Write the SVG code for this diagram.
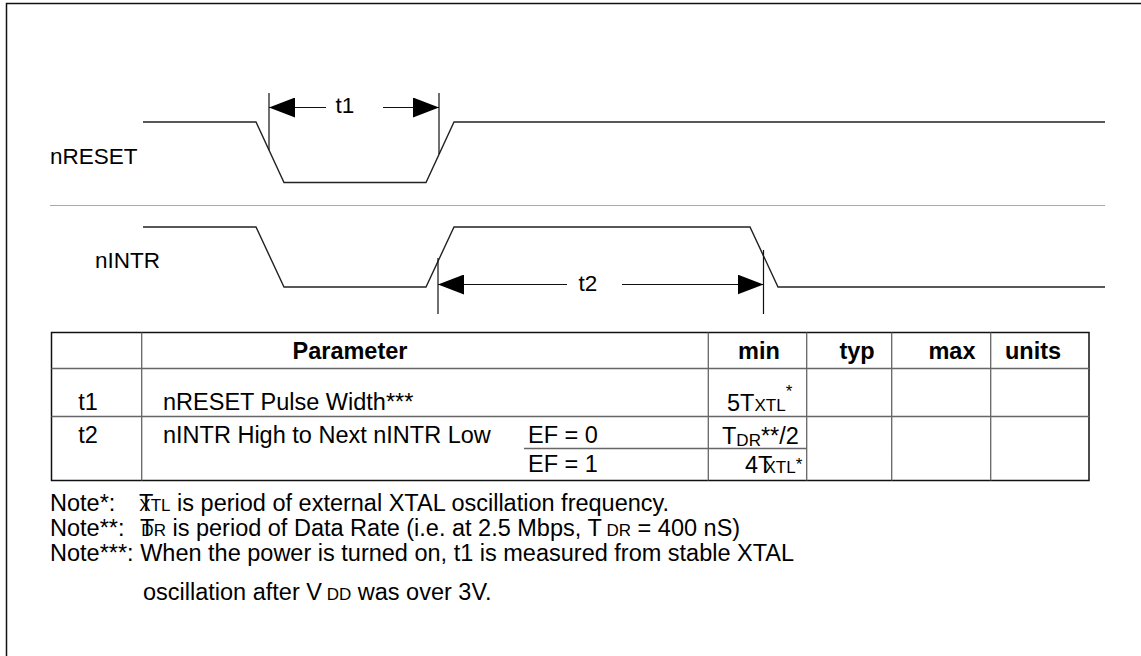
<svg xmlns="http://www.w3.org/2000/svg" width="1141" height="656" viewBox="0 0 1141 656">
<style>
text{font-family:"Liberation Sans",Arial,Helvetica,sans-serif;font-size:23.5px;fill:#000}
.b{font-weight:bold}
.s{font-size:17px}
.lbl{font-size:22.5px}
.mid{text-anchor:middle}
.sig{fill:none;stroke:#222;stroke-width:1.4}
.sep{fill:none;stroke:#aaa;stroke-width:1.2}
.dim{fill:none;stroke:#111;stroke-width:1.2}
.grid{fill:none;stroke:#666;stroke-width:1.3}
.outer{fill:none;stroke:#111;stroke-width:1.5}
</style>
<defs>
<marker id="ah" viewBox="0 0 26 20" refX="26" refY="10" markerWidth="26" markerHeight="20" markerUnits="userSpaceOnUse" orient="auto">
<path d="M0,0 L26,10 L0,20 z" fill="#000"/>
</marker>
</defs>
<rect width="1141" height="656" fill="#fff"/>
<g id="frame"><path class="outer" d="M6.5,656 V3.5 H1141"/></g>

<g id="signal-nRESET">
<path class="sig" d="M143,122 H256 L284,182.5 H426 L454,122 H1105"/>
<text class="lbl" x="50" y="164">nRESET</text>
</g>
<g id="separator"><path class="sep" d="M50,205.5 H1105"/></g>
<g id="signal-nINTR">
<path class="sig" d="M143,227 H256 L284,287 H426 L454,227 H750 L778,287 H1105"/>
<text class="lbl" x="95" y="268">nINTR</text>
</g>

<g id="connectors">
<path class="dim" d="M269,93 V150 M439,93 V154"/>
<path class="dim" d="M326,107.5 H269" marker-end="url(#ah)"/>
<path class="dim" d="M383,107.5 H439" marker-end="url(#ah)"/>
<path class="dim" d="M438,258 V314 M763.5,250 V314"/>
<path class="dim" d="M567,284.5 H438" marker-end="url(#ah)"/>
<path class="dim" d="M622,284.5 H763.5" marker-end="url(#ah)"/>
</g>
<g id="label-t1"><text class="lbl mid" x="345" y="113">t1</text></g>
<g id="label-t2"><text class="lbl mid" x="588" y="291">t2</text></g>

<g id="table">
<rect class="outer" x="51.5" y="332.5" width="1037.5" height="148"/>
<path class="grid" d="M51.5,368.5 H1089 M51.5,416.5 H1089 M524,448.5 H807 M141.7,332.5 V480.5 M708.3,332.5 V480.5 M806.7,332.5 V480.5 M891.7,332.5 V480.5 M990.7,332.5 V480.5"/>
<text class="b mid" x="350" y="359">Parameter</text>
<text class="b mid" x="759" y="359">min</text>
<text class="b mid" x="857" y="359">typ</text>
<text class="b mid" x="952" y="359">max</text>
<text class="b mid" x="1033" y="359">units</text>
<text class="mid" x="88" y="410">t1</text>
<text x="163" y="410">nRESET Pulse Width***</text>
<text x="727" y="411">5T<tspan class="s">XTL</tspan><tspan class="s" dy="-14">*</tspan></text>
<text class="mid" x="88" y="443">t2</text>
<text x="163" y="443">nINTR High to Next nINTR Low</text>
<text x="528" y="443">EF = 0</text>
<text x="528" y="472">EF = 1</text>
<text x="722" y="444">T<tspan class="s" dy="2">DR</tspan><tspan dy="-2">**/2</tspan></text>
<text x="745" y="473">4T<tspan class="s" dx="-8">XTL</tspan><tspan class="s" dy="-3">*</tspan></text>
</g>

<g id="notes">
<text x="50" y="511">Note*:</text>
<text x="139" y="511">T<tspan class="s" dx="-14">XTL</tspan> is period of external XTAL oscillation frequency.</text>
<text x="50" y="536">Note**:</text>
<text x="140" y="536">T<tspan class="s" dx="-13">DR</tspan> is period of Data Rate (i.e. at 2.5 Mbps, T<tspan class="s"> DR</tspan> = 400 nS)</text>
<text x="50" y="561">Note***: When the power is turned on, t1 is measured from stable XTAL</text>
<text x="143" y="600">oscillation after V<tspan class="s"> DD</tspan> was over 3V.</text>
</g>
</svg>
